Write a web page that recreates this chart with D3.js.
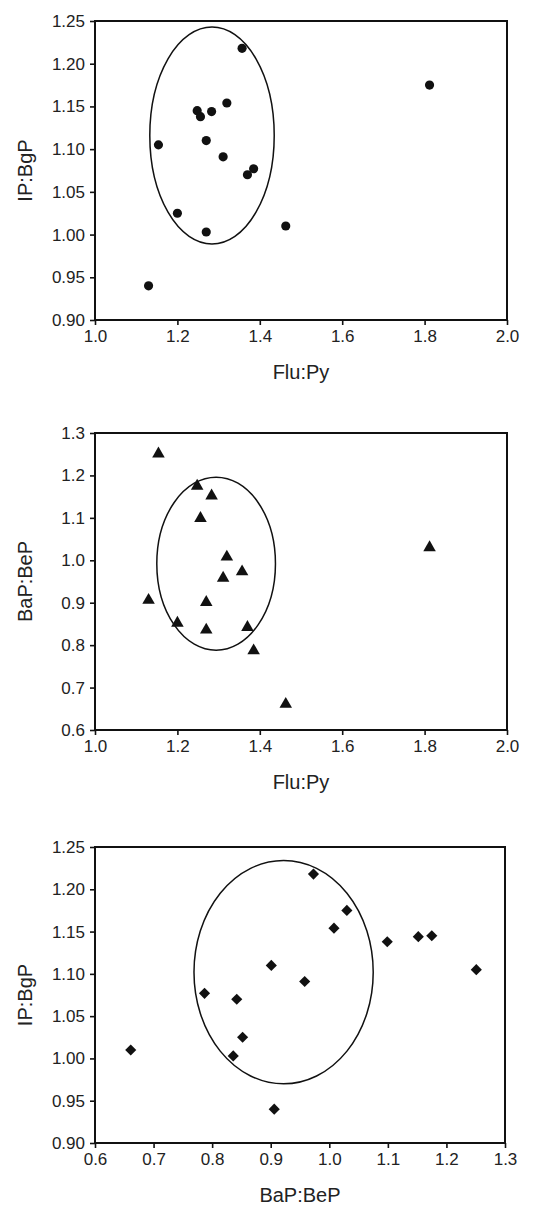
<!DOCTYPE html>
<html>
<head>
<meta charset="utf-8">
<script src="https://cdn.jsdelivr.net/npm/d3@7"></script>
<style>
  body { margin: 0; background: #fff; }
  svg text { font-family: "Liberation Sans", Arial, sans-serif; fill: #222; }
</style>
</head>
<body>
<svg id="CHART" width="541" height="1205"></svg>
<script>
// 15 samples, same order in every array
var fluPy  = [1.130, 1.154, 1.200, 1.248, 1.256, 1.270, 1.270, 1.283, 1.311, 1.320, 1.357, 1.370, 1.385, 1.463, 1.812];
var ipBgP  = [0.940, 1.105, 1.025, 1.145, 1.138, 1.110, 1.003, 1.144, 1.091, 1.154, 1.218, 1.070, 1.077, 1.010, 1.175];
var bapBeP = [0.906, 1.251, 0.852, 1.175, 1.099, 0.901, 0.836, 1.152, 0.958, 1.008, 0.973, 0.842, 0.787, 0.661, 1.030];

// ellipse around the main group: [cx, cy, rx, ry] in data units
var ellipse1 = [1.284, 1.116, 0.151, 0.127];
var ellipse2 = [1.294, 0.992, 0.144, 0.204];
var ellipse3 = [0.922, 1.102, 0.153, 0.132];

var xTicks12 = [1.0, 1.2, 1.4, 1.6, 1.8, 2.0];
var yTicks1 = [0.90, 0.95, 1.00, 1.05, 1.10, 1.15, 1.20, 1.25];
var yTicks2 = [0.6, 0.7, 0.8, 0.9, 1.0, 1.1, 1.2, 1.3];
var xTicks3 = [0.6, 0.7, 0.8, 0.9, 1.0, 1.1, 1.2, 1.3];

var panels = [
  { xs: fluPy, ys: ipBgP, xDom: [1.0, 2.0], yDom: [0.90, 1.25], xTicks: xTicks12, yTicks: yTicks1,
    xFmt: ".1f", yFmt: ".2f", xTitle: "Flu:Py", yTitle: "IP:BgP", ell: ellipse1,
    symbol: d3.symbolCircle, size: 66, rot: 0, top: 21, bottom: 320, left: 95, right: 507 },
  { xs: fluPy, ys: bapBeP, xDom: [1.0, 2.0], yDom: [0.6, 1.3], xTicks: xTicks12, yTicks: yTicks2,
    xFmt: ".1f", yFmt: ".1f", xTitle: "Flu:Py", yTitle: "BaP:BeP", ell: ellipse2,
    symbol: d3.symbolTriangle, size: 68, rot: 0, top: 433, bottom: 730, left: 95, right: 507 },
  { xs: bapBeP, ys: ipBgP, xDom: [0.6, 1.3], yDom: [0.90, 1.25], xTicks: xTicks3, yTicks: yTicks1,
    xFmt: ".1f", yFmt: ".2f", xTitle: "BaP:BeP", yTitle: "IP:BgP", ell: ellipse3,
    symbol: d3.symbolSquare, size: 62, rot: 45, top: 847, bottom: 1143, left: 95, right: 505 }
];

var svg = d3.select("#CHART");

panels.forEach(function (p) {
  var x = d3.scaleLinear().domain(p.xDom).range([p.left, p.right]);
  var y = d3.scaleLinear().domain(p.yDom).range([p.bottom, p.top]);
  var g = svg.append("g");

  // frame
  g.append("rect")
    .attr("x", p.left)
    .attr("y", p.top)
    .attr("width", p.right - p.left)
    .attr("height", p.bottom - p.top)
    .attr("fill", "none")
    .attr("stroke", "#111")
    .attr("stroke-width", 2);

  var xAxis = g.append("g")
    .attr("transform", "translate(0," + p.bottom + ")")
    .call(d3.axisBottom(x).tickValues(p.xTicks).tickFormat(d3.format(p.xFmt)).tickSize(5).tickPadding(5));
  var yAxis = g.append("g")
    .attr("transform", "translate(" + p.left + ",0)")
    .call(d3.axisLeft(y).tickValues(p.yTicks).tickFormat(d3.format(p.yFmt)).tickSize(5).tickPadding(5));

  [xAxis, yAxis].forEach(function (a) {
    a.select(".domain").remove();
    a.selectAll("line").attr("stroke", "#111").attr("stroke-width", 1.6);
    a.selectAll("text")
      .attr("fill", "#222")
      .style("font-size", "17px")
      .style("font-family", "'Liberation Sans', Arial, sans-serif");
  });

  g.append("text")
    .attr("x", (p.left + p.right) / 2)
    .attr("y", p.bottom + 59)
    .attr("text-anchor", "middle")
    .style("font-size", "20px")
    .text(p.xTitle);

  g.append("text")
    .attr("transform", "translate(32," + (p.top + p.bottom) / 2 + ") rotate(-90)")
    .attr("text-anchor", "middle")
    .style("font-size", "20px")
    .text(p.yTitle);

  var e = p.ell;
  g.append("ellipse")
    .attr("cx", x(e[0]))
    .attr("cy", y(e[1]))
    .attr("rx", x(e[0] + e[2]) - x(e[0]))
    .attr("ry", y(e[1]) - y(e[1] + e[3]))
    .attr("fill", "none")
    .attr("stroke", "#111")
    .attr("stroke-width", 1.5);

  var pts = p.xs.map(function (v, i) { return [v, p.ys[i]]; });
  g.append("g")
    .selectAll("path")
    .data(pts)
    .join("path")
    .attr("d", d3.symbol().type(p.symbol).size(p.size))
    .attr("fill", "#111")
    .attr("transform", function (d) {
      return "translate(" + x(d[0]) + "," + y(d[1]) + ") rotate(" + p.rot + ")";
    });
});
</script>
</body>
</html>
